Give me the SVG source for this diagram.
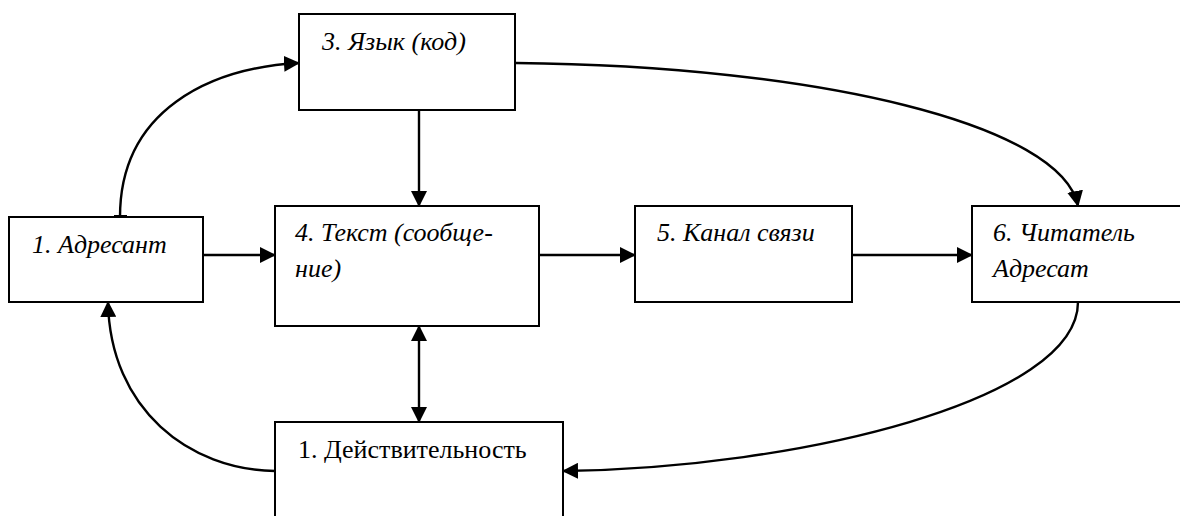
<svg xmlns="http://www.w3.org/2000/svg" width="1180" height="516" viewBox="0 0 1180 516">
<style>
.box{fill:#fff;stroke:#000;stroke-width:2}
.t{font-family:"Liberation Serif","Times New Roman",serif;font-size:26px;fill:#000}
.i{font-style:italic}
.c{fill:none;stroke:#000;stroke-width:2.4}
</style>
<defs>
<marker id="ah" markerWidth="16" markerHeight="16" viewBox="0 0 16 16" refX="15" refY="8" orient="auto" markerUnits="userSpaceOnUse">
<path d="M0,0 L16,8 L0,16 Z" fill="#000"/>
</marker>
<marker id="as" markerWidth="16" markerHeight="16" viewBox="0 0 16 16" refX="1" refY="8" orient="auto" markerUnits="userSpaceOnUse">
<path d="M16,0 L0,8 L16,16 Z" fill="#000"/>
</marker>
</defs>
<rect width="1180" height="516" fill="#fff"/>
<g id="connectors">
<path class="c" d="M120,217 C120,110 210,68 299,63" marker-end="url(#ah)"/>
<line x1="114" y1="216" x2="127" y2="216" stroke="#000" stroke-width="2"/>
<path class="c" d="M516,63 C820,66 1062,125 1078,206" marker-end="url(#ah)"/>
<line class="c" x1="419" y1="111" x2="419" y2="206" marker-end="url(#ah)"/>
<line class="c" x1="203" y1="255" x2="275" y2="255" marker-end="url(#ah)"/>
<line class="c" x1="539" y1="255" x2="635" y2="255" marker-end="url(#ah)"/>
<line class="c" x1="852" y1="255" x2="972" y2="255" marker-end="url(#ah)"/>
<line class="c" x1="419" y1="326" x2="419" y2="422" marker-start="url(#as)" marker-end="url(#ah)"/>
<path class="c" d="M1078,302 C1078,400 800,468 563,471" marker-end="url(#ah)"/>
<path class="c" d="M275,471 C190,470 110,410 108,302" marker-end="url(#ah)"/>
</g>
<g id="n3"><rect class="box" x="299" y="14" width="216" height="96"/><text class="t i" x="322" y="50">3. Язык (код)</text></g>
<g id="n1"><rect class="box" x="9" y="217" width="194" height="85"/><text class="t i" x="32" y="253">1. Адресант</text></g>
<g id="n4"><rect class="box" x="275" y="206" width="264" height="120"/><text class="t i" x="295" y="241">4. Текст (сообще-</text><text class="t i" x="295" y="277">ние)</text></g>
<g id="n5"><rect class="box" x="635" y="206" width="217" height="96"/><text class="t i" x="657" y="241">5. Канал связи</text></g>
<g id="n6"><rect class="box" x="972" y="206" width="220" height="96"/><text class="t i" x="993" y="241">6. Читатель</text><text class="t i" x="993" y="277">Адресат</text></g>
<g id="n0"><rect class="box" x="275" y="422" width="288" height="110"/><text class="t" x="298" y="458">1. Действительность</text></g>
</svg>
